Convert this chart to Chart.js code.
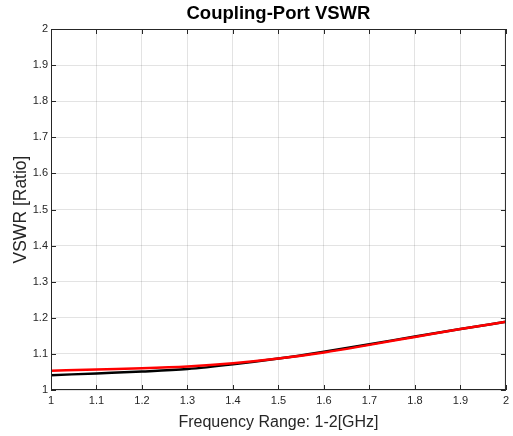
<!DOCTYPE html>
<html>
<head>
<meta charset="utf-8">
<script src="https://cdn.jsdelivr.net/npm/chart.js@4/dist/chart.umd.min.js"></script>
<style>
  body { margin: 0; background: #fff; }
  #wrap { width: 513px; height: 436px; }
</style>
</head>
<body>
<div id="wrap"><canvas id="chart" width="513" height="436"></canvas></div>
<script>
const freq = [1.0, 1.1, 1.2, 1.3, 1.4, 1.5, 1.6, 1.7, 1.8, 1.9, 2.0];
const vswrMeasured = [1.053, 1.057, 1.060, 1.065, 1.074, 1.087, 1.104, 1.125, 1.147, 1.169, 1.189];
const vswrSimulated = [1.041, 1.046, 1.051, 1.058, 1.071, 1.087, 1.106, 1.127, 1.148, 1.169, 1.189];

const toPoints = (vals) => vals.map((v, i) => ({ x: freq[i], y: v }));

// box around plot + inward tick marks (matlab style)
const boxPlugin = {
  id: 'box',
  afterDraw(chart) {
    const { ctx, chartArea: a, scales } = chart;
    ctx.save();
    ctx.strokeStyle = '#262626';
    ctx.lineWidth = 1;
    ctx.strokeRect(a.left + 0.5, a.top + 0.5, a.right - a.left - 1, a.bottom - a.top - 1);
    ctx.beginPath();
    scales.x.ticks.forEach(t => {
      const px = Math.round(scales.x.getPixelForValue(t.value)) + 0.5;
      ctx.moveTo(px, a.bottom); ctx.lineTo(px, a.bottom - 5);
      ctx.moveTo(px, a.top); ctx.lineTo(px, a.top + 5);
    });
    scales.y.ticks.forEach(t => {
      const py = Math.round(scales.y.getPixelForValue(t.value)) + 0.5;
      ctx.moveTo(a.left, py); ctx.lineTo(a.left + 5, py);
      ctx.moveTo(a.right, py); ctx.lineTo(a.right - 5, py);
    });
    ctx.stroke();
    ctx.restore();
  }
};

new Chart(document.getElementById('chart').getContext('2d'), {
  type: 'line',
  data: {
    datasets: [
      {
        data: toPoints(vswrMeasured),
        borderColor: '#ff0000',
        borderWidth: 2.5,
        pointRadius: 0,
        cubicInterpolationMode: 'monotone',
        fill: false
      },
      {
        data: toPoints(vswrSimulated),
        borderColor: '#000000',
        borderWidth: 2.5,
        pointRadius: 0,
        cubicInterpolationMode: 'monotone',
        fill: false
      }
    ]
  },
  options: {
    responsive: false,
    animation: false,
    layout: { padding: { left: 0, right: 6, top: 0, bottom: 0 } },
    plugins: {
      legend: { display: false },
      tooltip: { enabled: false },
      title: {
        display: true,
        fullSize: false,
        text: 'Coupling-Port VSWR',
        color: '#000',
        font: { family: 'Liberation Sans', size: 18.5, weight: 'bold' },
        padding: { top: 3, bottom: 3.8 }
      }
    },
    scales: {
      x: {
        type: 'linear',
        min: 1, max: 2,
        ticks: {
          stepSize: 0.1,
          color: '#262626',
          font: { family: 'Liberation Sans', size: 11 },
          maxRotation: 0,
          padding: 4,
          callback: v => Number(v.toFixed(1)).toString()
        },
        grid: { color: 'rgba(0,0,0,0.11)', drawTicks: false },
        border: { display: false },
        title: {
          display: true,
          text: 'Frequency Range: 1-2[GHz]',
          color: '#262626',
          font: { family: 'Liberation Sans', size: 16 },
          padding: { top: 2, bottom: 4 }
        },
        afterFit: s => { s.height = 46; }
      },
      y: {
        min: 1, max: 2,
        ticks: {
          stepSize: 0.1,
          color: '#262626',
          font: { family: 'Liberation Sans', size: 11 },
          padding: 3,
          callback: v => Number(v.toFixed(1)).toString()
        },
        grid: { color: 'rgba(0,0,0,0.11)', drawTicks: false },
        border: { display: false },
        title: {
          display: true,
          text: 'VSWR [Ratio]',
          color: '#262626',
          font: { family: 'Liberation Sans', size: 17.5 },
          padding: { top: 11, bottom: 0 }
        },
        afterFit: s => { s.width = 51; }
      }
    }
  },
  plugins: [boxPlugin]
});
</script>
</body>
</html>
